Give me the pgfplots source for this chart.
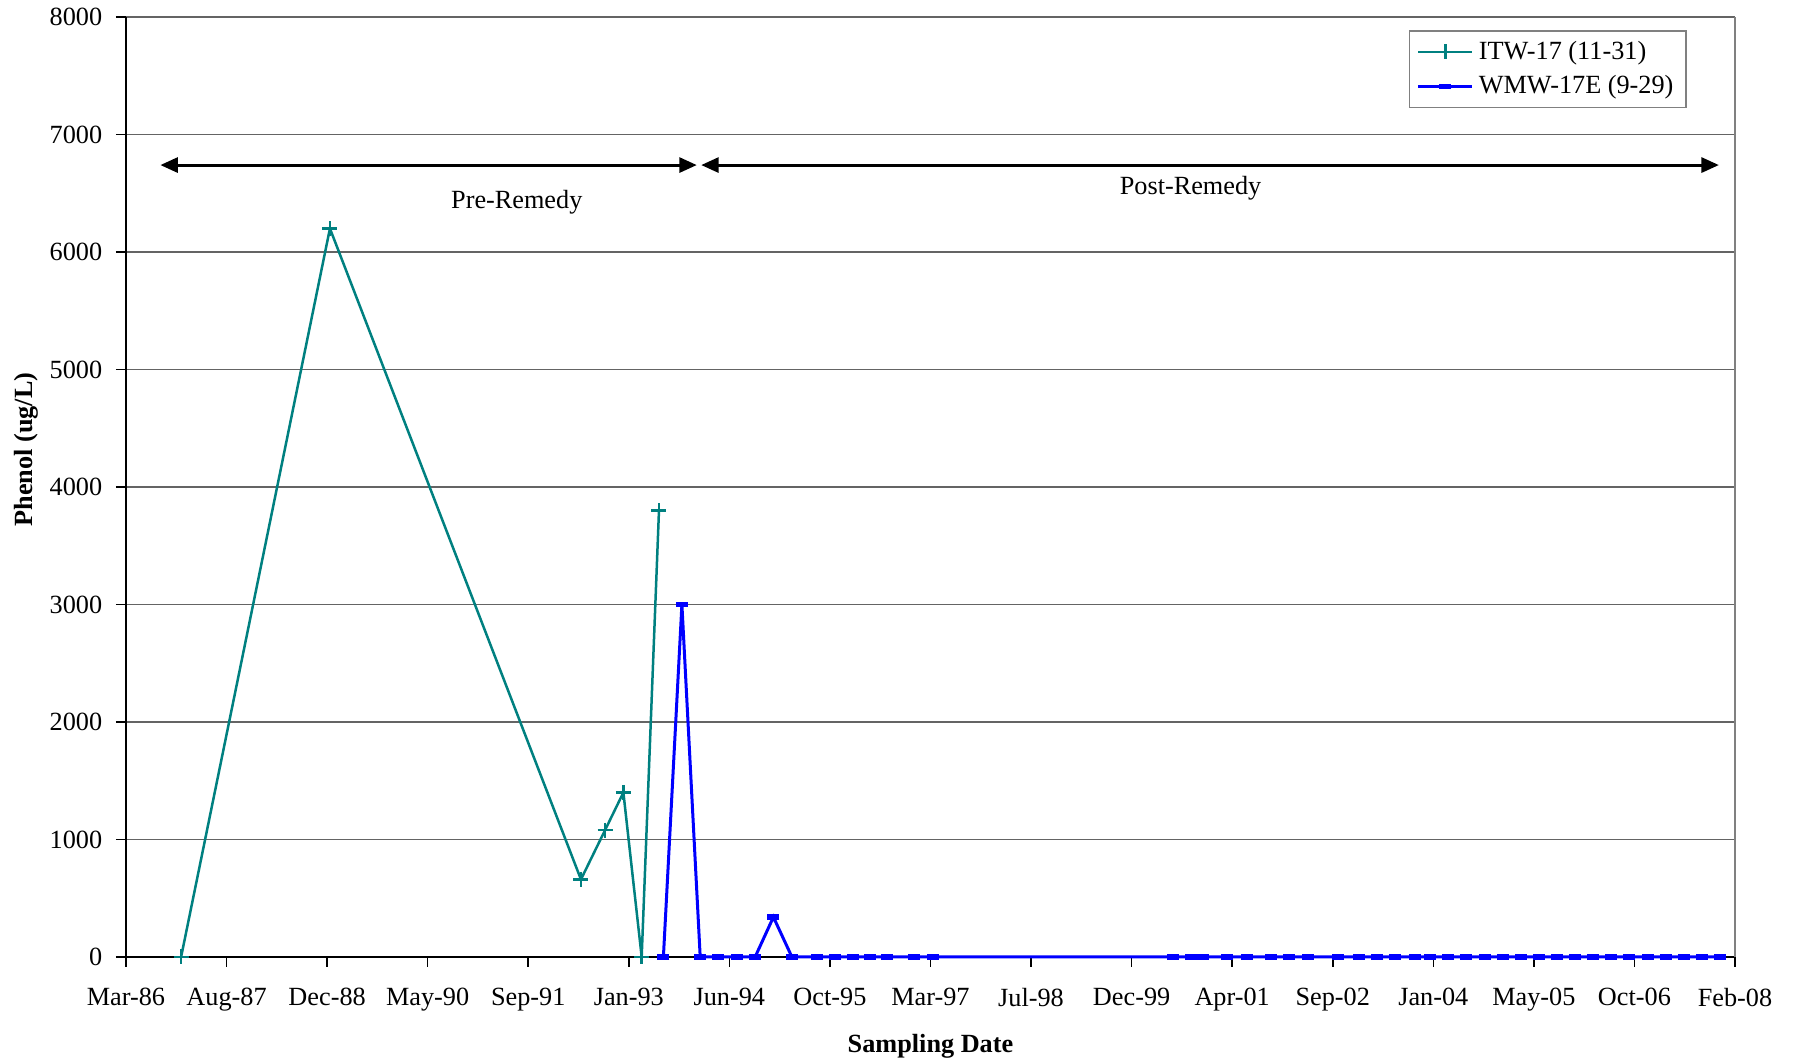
\documentclass[border=0pt]{standalone}
\usepackage{pgfplots}
\pgfplotsset{compat=1.18}
\usepackage{fontspec}
\setmainfont{Liberation Serif}
\usetikzlibrary{arrows.meta}
\definecolor{itw}{RGB}{0,128,128}
\definecolor{wmw}{RGB}{0,0,255}
\definecolor{gridc}{RGB}{100,100,100}

\begin{document}
\begin{tikzpicture}
\useasboundingbox (-50.4pt,-42pt) rectangle (669.2pt,382.8pt);
\begin{axis}[
    at={(0,0)}, anchor=south west,
    scale only axis,
    width=643.6pt, height=376pt,
    font=\fontsize{10.5}{12}\selectfont,
    /pgf/number format/assume math mode=true,
    /pgf/number format/1000 sep={},
    xmin=0, xmax=8000,
    ymin=0, ymax=8000,
    xtick={0,500,...,8000},
    xticklabels={Mar-86,Aug-87,Dec-88,May-90,Sep-91,Jan-93,Jun-94,Oct-95,Mar-97,Jul-98,Dec-99,Apr-01,Sep-02,Jan-04,May-05,Oct-06,Feb-08},
    ytick={0,1000,...,8000},
    axis x line*=bottom,
    axis y line*=left,
    axis line style={black, line width=0.8pt, -},
    tick align=outside,
    major tick length=4pt,
    tick style={black, line width=0.6pt},
    ymajorgrids=true,
    grid style={gridc, line width=0.6pt},
    xticklabel style={yshift=-5pt},
    yticklabel style={xshift=-2pt},
    xlabel={\bfseries Sampling Date},
    ylabel={\bfseries Phenol (ug/L)},
    xlabel style={at={(axis description cs:0.5,-0.095)}, anchor=center},
    ylabel style={at={(axis description cs:-0.062,0.54)}, anchor=center, rotate=0},
    legend style={at={(axis description cs:0.970,0.986)}, anchor=north east,
        draw=gray, line width=0.6pt, inner xsep=3pt, inner ysep=2pt,
        cells={anchor=west}, row sep=1pt,
        font=\fontsize{10.5}{12}\selectfont},
    legend image code/.code={%
        \draw[mark repeat=2,mark phase=2] plot coordinates {(0cm,0cm) (0.38cm,0cm) (0.76cm,0cm)};},
    clip=false,
]
\draw[gray, line width=0.6pt] (rel axis cs:1,0) -- (rel axis cs:1,1);

\addplot[color=itw, line width=1pt, mark=+, mark size=3pt,
    mark options={line width=1pt}]
    coordinates {
    (274,0)
    (1014,6200)
    (2262,660)
    (2382,1080)
    (2473,1400)
    (2564,0)
    (2650,3800)
    };
\addlegendentry{ITW-17 (11-31)}

\addplot[color=wmw, line width=1.2pt, mark=-, mark size=2.4pt,
    mark options={line width=2.2pt}]
    coordinates {
    (2672,0)
    (2764,3000)
    (2855,0)
    (2943,0)
    (3037,0)
    (3128,0)
    (3219,340)
    (3311,0)
    (3436,0)
    (3527,0)
    (3613,0)
    (3698,0)
    (3783,0)
    (3920,0)
    (4011,0)
    (5205,0)
    (5293,0)
    (5356,0)
    (5476,0)
    (5573,0)
    (5692,0)
    (5783,0)
    (5875,0)
    (6028,0)
    (6131,0)
    (6222,0)
    (6308,0)
    (6410,0)
    (6484,0)
    (6575,0)
    (6665,0)
    (6755,0)
    (6845,0)
    (6935,0)
    (7025,0)
    (7115,0)
    (7205,0)
    (7295,0)
    (7385,0)
    (7475,0)
    (7565,0)
    (7655,0)
    (7745,0)
    (7835,0)
    (7925,0)
    };
\addlegendentry{WMW-17E (9-29)}

\draw[line width=1.2pt, {Triangle[width=6pt,length=7pt]}-{Triangle[width=6pt,length=7pt]}]
    (axis cs:171,6740) -- (axis cs:2838,6740);
\draw[line width=1.2pt, {Triangle[width=6pt,length=7pt]}-{Triangle[width=6pt,length=7pt]}]
    (axis cs:2860,6740) -- (axis cs:7920,6740);
\node at (axis cs:1943,6420) {Pre-Remedy};
\node at (axis cs:5293,6545) {Post-Remedy};
\end{axis}
\end{tikzpicture}
\end{document}
